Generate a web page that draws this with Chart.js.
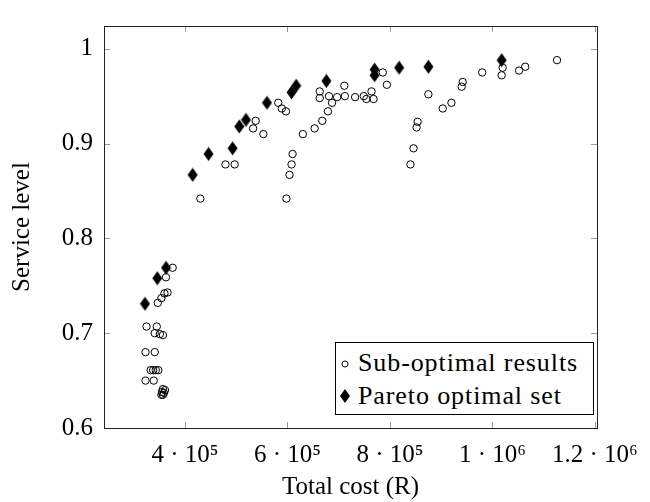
<!DOCTYPE html>
<html lang="en">
<head>
<meta charset="UTF-8">
<title>Service level vs total cost</title>
<script src="https://cdn.jsdelivr.net/npm/chart.js"></script>
<style>
  html, body { margin: 0; padding: 0; background: #fff; }
  #wrap { position: relative; width: 650px; height: 502px; }
  #legend { position: absolute; left: 335px; top: 342px; width: 257px; height: 71px; border: 1px solid #000; background: #fff;
            font-family: 'Liberation Serif', 'DejaVu Serif', serif; font-size: 26px; color: #000; }
  #legend .row { position: absolute; left: 0; height: 30px; line-height: 30px; white-space: nowrap; }
  #legend svg { position: absolute; left: 3px; top: 8px; }
  #legend span { position: absolute; left: 22px; top: 0; letter-spacing: 0.9px; }
</style>
</head>
<body>
<div id="wrap">
  <canvas id="chart" width="650" height="502"></canvas>
  <div id="legend">
    <div class="row" style="top:5px;">
      <svg width="14" height="14"><circle cx="6" cy="8" r="3" fill="none" stroke="#000" stroke-width="1"/></svg>
      <span>Sub-optimal results</span>
    </div>
    <div class="row" style="top:38px;">
      <svg width="14" height="16" style="top:7px;"><path d="M6 1 L11 8 L6 15 L1 8 Z" fill="#000"/></svg>
      <span>Pareto optimal set</span>
    </div>
  </div>
</div>
<script>
// data
const subCost = [
  376000, 363000, 366000, 360000, 354000, 347000, 325000, 345000, 341000, 351000,
  357000, 323000, 341000, 333000, 338000, 343000, 348000, 323000, 339000, 357000,
  361000, 355000, 359000, 354000, 357000,
  430000, 479000, 497000, 533000, 538000, 553000, 582000, 589000, 597000, 598000,
  604000, 608000, 610000, 630000, 653000, 668000, 679000, 687000, 663000, 663000,
  681000, 697000, 712000, 711000, 732000, 749000, 754000, 764000, 768000, 786000,
  794000, 840000, 846000, 852000, 854000, 875000, 903000, 920000, 940000, 942000,
  980000, 1018000, 1020000, 1052000, 1064000, 1126000
];
const subLevel = [
  0.769, 0.759, 0.743, 0.742, 0.737, 0.732, 0.707, 0.707, 0.700, 0.699,
  0.698, 0.680, 0.680, 0.661, 0.661, 0.661, 0.661, 0.650, 0.650, 0.641,
  0.640, 0.638, 0.637, 0.635, 0.635,
  0.842, 0.878, 0.878, 0.916, 0.924, 0.910, 0.943, 0.937, 0.934, 0.842,
  0.867, 0.878, 0.889, 0.910, 0.916, 0.924, 0.934, 0.943, 0.955, 0.948,
  0.950, 0.949, 0.950, 0.961, 0.949, 0.950, 0.947, 0.955, 0.947, 0.975,
  0.962, 0.878, 0.895, 0.917, 0.923, 0.952, 0.937, 0.943, 0.960, 0.965,
  0.975, 0.972, 0.980, 0.977, 0.981, 0.988
];
const paretoCost = [322000, 346000, 363000, 415000, 446000, 493000, 506000, 519000, 560000,
                    608000, 617000, 676000, 770000, 770000, 818000, 875000, 1018000];
const paretoLevel = [0.731, 0.758, 0.769, 0.867, 0.889, 0.895, 0.918, 0.925, 0.943,
                     0.954, 0.961, 0.966, 0.972, 0.978, 0.980, 0.981, 0.988];

const xTicks = [400000, 600000, 800000, 1000000, 1200000];
const xTickLabels = ['4 · 10⁵', '6 · 10⁵', '8 · 10⁵', '1 · 10⁶', '1.2 · 10⁶'];
const yTicks = [0.6, 0.7, 0.8, 0.9, 1];
const yTickLabels = ['0.6', '0.7', '0.8', '0.9', '1'];

const serif = "'Liberation Serif', 'DejaVu Serif', serif";

// tall filled diamond like the pgfplots diamond* mark
function makeDiamond() {
    const c = document.createElement('canvas');
    c.width = 11; c.height = 15;
    const g = c.getContext('2d');
    g.fillStyle = '#000';
    g.beginPath();
    g.moveTo(5.5, 0.5); g.lineTo(10.5, 7.5); g.lineTo(5.5, 14.5); g.lineTo(0.5, 7.5);
    g.closePath(); g.fill();
    return c;
}

// frame + inward ticks on all four sides
const frameTicks = {
    id: 'frameTicks',
    afterDatasetsDraw(chart) {
        const {ctx, chartArea: a, scales: {x, y}} = chart;
        ctx.save();
        ctx.strokeStyle = '#999';
        ctx.lineWidth = 1;
        ctx.beginPath();
        xTicks.forEach(v => {
            const px = Math.round(x.getPixelForValue(v)) + 0.5;
            ctx.moveTo(px, a.bottom); ctx.lineTo(px, a.bottom - 6);
            ctx.moveTo(px, a.top); ctx.lineTo(px, a.top + 6);
        });
        yTicks.forEach(v => {
            const py = Math.round(y.getPixelForValue(v)) + 0.5;
            ctx.moveTo(a.left, py); ctx.lineTo(a.left + 6, py);
            ctx.moveTo(a.right, py); ctx.lineTo(a.right - 6, py);
        });
        ctx.stroke();
        ctx.strokeStyle = '#222';
        ctx.strokeRect(Math.round(a.left) + 0.5, Math.round(a.top) + 0.5,
                       Math.round(a.right - a.left), Math.round(a.bottom - a.top));
        ctx.restore();
    }
};

new Chart(document.getElementById('chart'), {
    type: 'scatter',
    data: {
        datasets: [
            {
                label: 'Sub-optimal results',
                data: subCost.map((c, i) => ({x: c, y: subLevel[i]})),
                pointStyle: 'circle',
                pointRadius: 3.7,
                borderWidth: 1,
                borderColor: '#000',
                backgroundColor: 'rgba(0,0,0,0)',
                order: 2
            },
            {
                label: 'Pareto optimal set',
                data: paretoCost.map((c, i) => ({x: c, y: paretoLevel[i]})),
                pointStyle: makeDiamond(),
                pointRadius: 6,
                borderWidth: 0,
                backgroundColor: '#000',
                order: 1
            }
        ]
    },
    options: {
        responsive: false,
        animation: false,
        layout: { padding: { top: 8, right: 43, left: 0, bottom: 0 } },
        plugins: { legend: { display: false }, tooltip: { enabled: false } },
        scales: {
            x: {
                type: 'linear',
                min: 242000,
                max: 1204000,
                afterFit: s => { s.height = 74; },
                afterBuildTicks: s => { s.ticks = xTicks.map(v => ({value: v})); },
                grid: { display: false, drawTicks: false },
                border: { display: false },
                ticks: {
                    padding: 12,
                    color: '#000',
                    font: { family: serif, size: 25 },
                    maxRotation: 0,
                    callback: (v, i) => xTickLabels[i]
                },
                title: {
                    display: true,
                    text: 'Total cost (R)',
                    color: '#000',
                    font: { family: serif, size: 25 },
                    padding: { top: 0, bottom: 0 }
                }
            },
            y: {
                type: 'linear',
                min: 0.6,
                max: 1.024,
                afterFit: s => { s.width = 104; },
                afterBuildTicks: s => { s.ticks = yTicks.map(v => ({value: v})); },
                grid: { display: false, drawTicks: false },
                border: { display: false },
                ticks: {
                    padding: 11,
                    color: '#000',
                    font: { family: serif, size: 25 },
                    callback: (v, i) => yTickLabels[i]
                },
                title: {
                    display: true,
                    text: 'Service level',
                    color: '#000',
                    font: { family: serif, size: 25 },
                    padding: { top: 7, bottom: 0 }
                }
            }
        }
    },
    plugins: [frameTicks]
});
</script>
</body>
</html>
